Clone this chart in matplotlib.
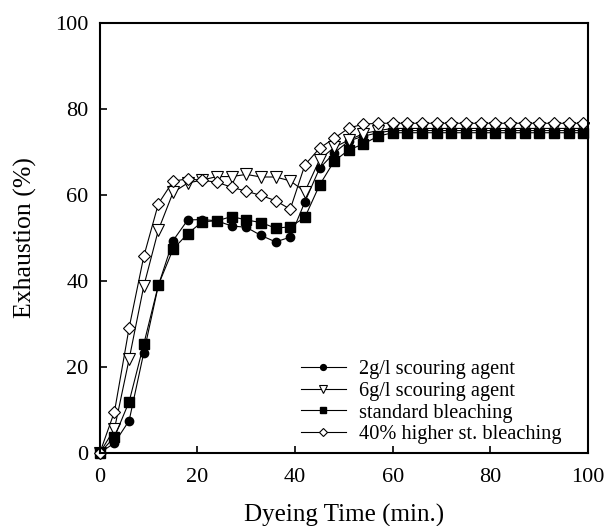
import matplotlib
matplotlib.use("Agg")
import matplotlib.pyplot as plt

plt.rcParams['font.family'] = ['Liberation Serif', 'DejaVu Serif']

# dyeing time (min.)
time = [0, 3, 6, 9, 12, 15, 18, 21, 24, 27, 30, 33, 36, 39, 42, 45, 48,
        51, 54, 57, 60, 63, 66, 69, 72, 75, 78, 81, 84, 87, 90, 93, 96, 99]

# exhaustion (%)
scour_2g = [0, 2.3, 7.5, 23.3, 39.0, 49.4, 54.2, 54.3, 54.0, 52.8, 52.5, 50.6,
            49.1, 50.2, 58.4, 66.2, 69.8, 72.6, 73.7, 74.5, 75.0, 75.0, 75.0,
            75.0, 75.0, 75.0, 75.0, 75.0, 75.0, 75.0, 75.0, 75.0, 75.0, 75.0]
scour_6g = [0, 5.6, 21.8, 38.8, 51.9, 60.6, 62.8, 63.5, 64.3, 64.3, 64.8, 64.2,
            64.2, 63.3, 60.8, 68.2, 71.1, 72.8, 74.3, 75.0, 75.5, 75.5, 75.5,
            75.5, 75.5, 75.5, 75.5, 75.5, 75.5, 75.5, 75.5, 75.5, 75.5, 75.5]
std_bleach = [0, 3.7, 11.9, 25.3, 39.1, 47.4, 51.0, 53.8, 54.0, 55.0, 54.2, 53.6,
              52.3, 52.6, 54.8, 62.3, 67.9, 70.5, 71.9, 73.7, 74.5, 74.5, 74.5,
              74.5, 74.5, 74.5, 74.5, 74.5, 74.5, 74.5, 74.5, 74.5, 74.5, 74.5]
high_bleach = [0, 9.6, 29.1, 45.7, 58.0, 63.2, 63.8, 63.4, 63.0, 61.8, 60.9, 59.9,
               58.7, 56.7, 67.0, 70.9, 73.2, 75.6, 76.5, 76.7, 76.7, 76.7, 76.7,
               76.7, 76.7, 76.7, 76.7, 76.7, 76.7, 76.7, 76.7, 76.7, 76.7, 76.7]

labels = ['2g/l scouring agent', '6g/l scouring agent',
          'standard bleaching', '40% higher st. bleaching']

fig = plt.figure(figsize=(6.05, 5.26), dpi=100)
ax = fig.add_axes([0.165, 0.139, 0.807, 0.817])

ax.plot(time, scour_2g, '-o', color='black', lw=0.8, ms=6,
        mfc='black', mec='black', label=labels[0], clip_on=False)
ax.plot(time, scour_6g, '-v', color='black', lw=0.8, ms=8,
        mfc='white', mec='black', mew=0.8, label=labels[1], clip_on=False)
ax.plot(time, std_bleach, '-s', color='black', lw=0.8, ms=6.5,
        mfc='black', mec='black', label=labels[2], clip_on=False)
ax.plot(time, high_bleach, '-D', color='black', lw=0.8, ms=6.5,
        mfc='white', mec='black', mew=0.8, label=labels[3], clip_on=False)

ax.set_xlim(0, 100)
ax.set_ylim(0, 100)
ax.set_xticks([0, 20, 40, 60, 80, 100])
ax.set_yticks([0, 20, 40, 60, 80, 100])
ax.tick_params(direction='in', length=5, width=1.2, labelsize=16,
               top=False, right=False)
ax.tick_params(axis='x', pad=11)
ax.tick_params(axis='y', pad=8)
for s in ax.spines.values():
    s.set_linewidth(1.5)

ax.set_xlabel('Dyeing Time (min.)', fontsize=18, labelpad=12)
ax.set_ylabel('Exhaustion (%)', fontsize=18.5, labelpad=13)

leg = ax.legend(loc='lower left', bbox_to_anchor=(0.412, 0.02), frameon=False,
                fontsize=14.7, handlelength=2.2, markerscale=0.7,
                labelspacing=0.12, handletextpad=0.65, borderpad=0,
                borderaxespad=0)

fig.savefig('out.png', dpi=100)
